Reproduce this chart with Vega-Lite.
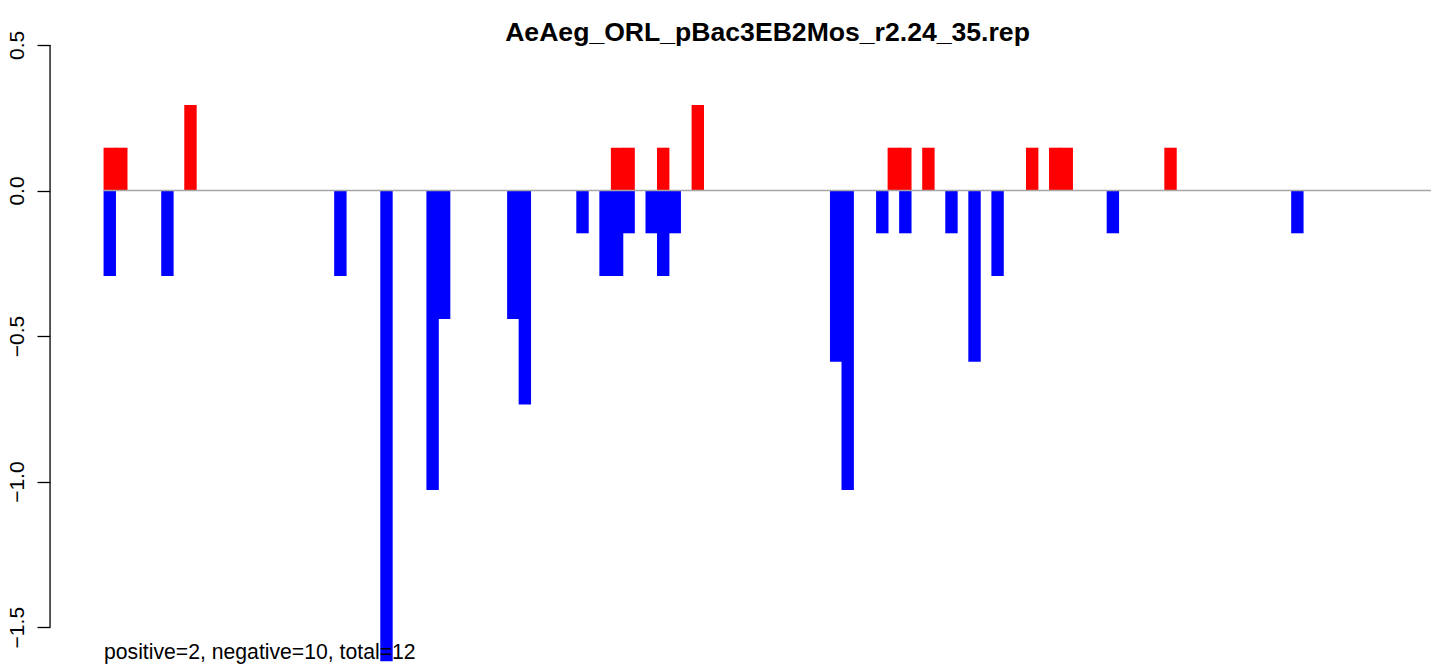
{
  "$schema": "https://vega.github.io/schema/vega-lite/v6.json",
  "width": 1327,
  "height": 625,
  "autosize": {"type": "none"},
  "padding": {"left": 104, "top": 40, "right": 13, "bottom": 1},
  "background": "white",
  "config": {"view": {"stroke": null}, "font": "Liberation Sans"},
  "title": {
    "text": "AeAeg_ORL_pBac3EB2Mos_r2.24_35.rep",
    "fontSize": 26.6,
    "fontWeight": "bold",
    "font": "Liberation Sans",
    "anchor": "middle",
    "frame": "group",
    "color": "black",
    "baseline": "alphabetic",
    "offset": 0,
    "dy": 37
  },
  "datasets": {
    "bars": [
      {"pos": 0, "value": 0.147, "sign": "pos"},
      {"pos": 1, "value": 0.147, "sign": "pos"},
      {"pos": 7, "value": 0.294, "sign": "pos"},
      {"pos": 44, "value": 0.147, "sign": "pos"},
      {"pos": 45, "value": 0.147, "sign": "pos"},
      {"pos": 48, "value": 0.147, "sign": "pos"},
      {"pos": 51, "value": 0.294, "sign": "pos"},
      {"pos": 68, "value": 0.147, "sign": "pos"},
      {"pos": 69, "value": 0.147, "sign": "pos"},
      {"pos": 71, "value": 0.147, "sign": "pos"},
      {"pos": 80, "value": 0.147, "sign": "pos"},
      {"pos": 82, "value": 0.147, "sign": "pos"},
      {"pos": 83, "value": 0.147, "sign": "pos"},
      {"pos": 92, "value": 0.147, "sign": "pos"},
      {"pos": 0, "value": -0.294, "sign": "neg"},
      {"pos": 5, "value": -0.294, "sign": "neg"},
      {"pos": 20, "value": -0.294, "sign": "neg"},
      {"pos": 24, "value": -1.617, "sign": "neg"},
      {"pos": 28, "value": -1.029, "sign": "neg"},
      {"pos": 29, "value": -0.441, "sign": "neg"},
      {"pos": 35, "value": -0.441, "sign": "neg"},
      {"pos": 36, "value": -0.735, "sign": "neg"},
      {"pos": 41, "value": -0.147, "sign": "neg"},
      {"pos": 43, "value": -0.294, "sign": "neg"},
      {"pos": 44, "value": -0.294, "sign": "neg"},
      {"pos": 45, "value": -0.147, "sign": "neg"},
      {"pos": 47, "value": -0.147, "sign": "neg"},
      {"pos": 48, "value": -0.294, "sign": "neg"},
      {"pos": 49, "value": -0.147, "sign": "neg"},
      {"pos": 63, "value": -0.588, "sign": "neg"},
      {"pos": 64, "value": -1.029, "sign": "neg"},
      {"pos": 67, "value": -0.147, "sign": "neg"},
      {"pos": 69, "value": -0.147, "sign": "neg"},
      {"pos": 73, "value": -0.147, "sign": "neg"},
      {"pos": 75, "value": -0.588, "sign": "neg"},
      {"pos": 77, "value": -0.294, "sign": "neg"},
      {"pos": 87, "value": -0.147, "sign": "neg"},
      {"pos": 103, "value": -0.147, "sign": "neg"}
    ]
  },
  "layer": [
    {
      "data": {"name": "bars"},
      "mark": {"type": "bar", "orient": "vertical", "width": 12.4},
      "encoding": {
        "x": {"field": "pos", "type": "quantitative", "scale": {"domain": [-0.5, 114.59], "nice": false, "zero": false, "padding": 0}, "axis": null},
        "y": {
          "field": "value",
          "type": "quantitative",
          "scale": {"domain": [-1.63, 0.517], "nice": false},
          "axis": {
            "values": [-1.5, -1, -0.5, 0, 0.5],
            "format": ".1f",
            "domain": false,
            "grid": false,
            "ticks": true,
            "tickSize": 13,
            "tickWidth": 1.3,
            "tickColor": "black",
            "offset": 54,
            "labelAngle": -90,
            "labelAlign": "center",
            "labelBaseline": "alphabetic",
            "labelPadding": 14,
            "labelFontSize": 21,
            "labelFont": "Liberation Sans",
            "labelColor": "black",
            "labelOverlap": false,
            "labelFlush": false,
            "title": null
          }
        },
        "color": {"field": "sign", "type": "nominal", "scale": {"domain": ["pos", "neg"], "range": ["#FF0000", "#0000FF"]}, "legend": null}
      }
    },
    {
      "data": {"values": [{}]},
      "mark": {"type": "rule", "color": "#A6A6A6", "strokeWidth": 1.5},
      "encoding": {"y": {"datum": 0}}
    },
    {
      "data": {"values": [{}]},
      "mark": {"type": "rule", "color": "black", "strokeWidth": 1.3},
      "encoding": {"x": {"datum": -5.18}, "y": {"datum": -1.5}, "y2": {"datum": 0.5}}
    },
    {
      "data": {"values": [{}]},
      "mark": {"type": "text", "text": "positive=2, negative=10, total=12", "align": "left", "baseline": "alphabetic", "fontSize": 21.2, "font": "Liberation Sans", "color": "black"},
      "encoding": {"x": {"datum": -0.5}, "y": {"datum": -1.61}}
    }
  ]
}
